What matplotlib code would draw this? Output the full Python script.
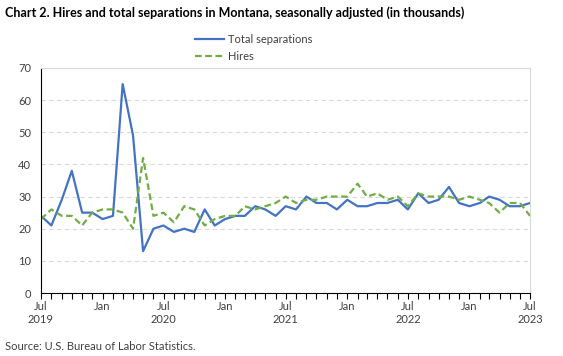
import numpy as np
import pandas as pd
import matplotlib
matplotlib.use('Agg')
import matplotlib.pyplot as plt
import matplotlib.dates as mdates

months = pd.date_range('2019-07-01', '2023-07-01', freq='MS')

separations = [24, 21, 29, 38, 25, 25,
               23, 24, 65, 49, 13, 20, 21, 19, 20, 19, 26, 21,
               23, 24, 24, 27, 26, 24, 27, 26, 30, 28, 28, 26,
               29, 27, 27, 28, 28, 29, 26, 31, 28, 29, 33, 28,
               27, 28, 30, 29, 27, 27, 28]

hires = [23, 26, 24, 24, 21, 25,
         26, 26, 25, 20, 42, 24, 25, 22, 27, 26, 21, 23,
         24, 24, 27, 26, 27, 28, 30, 28, 29, 29, 30, 30,
         30, 34, 30, 31, 29, 30, 27, 31, 30, 30, 30, 29,
         30, 29, 28, 25, 28, 28, 24]

y_ticks = [0, 10, 20, 30, 40, 50, 60, 70]

plt.rcParams['font.family'] = ['Lato', 'DejaVu Sans']

fig = plt.figure(figsize=(5.63, 3.56), dpi=100)
ax = fig.add_axes([41 / 563, 1 - 293 / 356, (530 - 41) / 563, (293 - 68) / 356])

ax.plot(months, separations, color='#4472C4', lw=1.6, label='Total separations')
ax.plot(months, hires, color='#70AD47', lw=1.6, ls=(0, (3, 1.6)), label='Hires')

ax.set_ylim(0, 70)
ax.set_yticks(y_ticks)
ax.set_xlim(months[0], months[-1])
ax.yaxis.grid(True, color='#d9d9d9', ls=(0, (4, 3)), lw=0.8)
ax.set_axisbelow(True)

# x ticks: labels every six months, minor tick marks every month
major = months[::6]
labels = []
for d in major:
    if d.month == 7:
        labels.append(f'Jul\n{d.year}')
    else:
        labels.append('Jan')
ax.set_xticks(major)
ax.set_xticklabels(labels)
ax.xaxis.set_minor_locator(mdates.MonthLocator())
ax.tick_params(axis='x', which='both', direction='out', length=4, width=0.8,
               color='black', labelsize=8, pad=2, labelcolor='#404040')
ax.tick_params(axis='y', length=0, labelsize=8, pad=7, labelcolor='#404040')

for side in ['top', 'right']:
    ax.spines[side].set_color('#d9d9d9')
    ax.spines[side].set_linewidth(0.8)
for side in ['left', 'bottom']:
    ax.spines[side].set_color('black')
    ax.spines[side].set_linewidth(0.8)

fig.legend(loc='center', bbox_to_anchor=(254 / 563, 1 - 48 / 356), ncol=1,
           frameon=False, fontsize=8, handlelength=2.6, handletextpad=0.35,
           labelspacing=0.5, labelcolor='#404040')

fig.text(5 / 563, 1 - 13 / 356,
         'Chart 2. Hires and total separations in Montana, seasonally adjusted (in thousands)',
         fontsize=9, fontweight='bold', va='center', ha='left')
fig.text(5 / 563, 1 - 346 / 356, 'Source: U.S. Bureau of Labor Statistics.',
         fontsize=8, va='center', ha='left', color='#404040')

fig.savefig('out.png', dpi=100)
